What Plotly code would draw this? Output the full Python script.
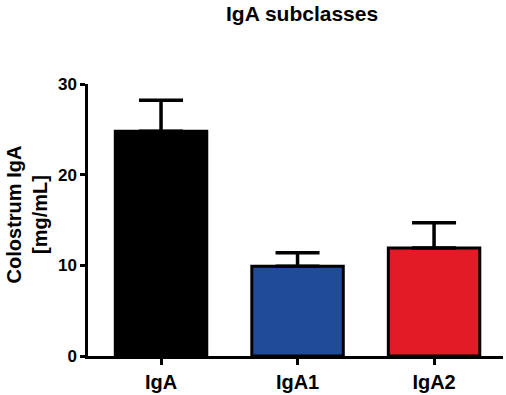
import plotly.graph_objects as go

categories = ["IgA", "IgA1", "IgA2"]
means = [24.8, 9.9, 11.9]
sem_upper = [3.4, 1.5, 2.8]
bar_colors = ["#000000", "#1f4b99", "#e21b26"]
y_ticks = [0, 10, 20, 30]

font_family = "Liberation Sans, Arial, Helvetica, sans-serif"

fig = go.Figure()
fig.add_trace(go.Bar(
    x=categories,
    y=means,
    width=0.67,
    marker=dict(color=bar_colors, line=dict(color="#000000", width=3)),
    error_y=dict(type="data", symmetric=False, array=sem_upper,
                 arrayminus=[0, 0, 0], color="#000000", thickness=3.5, width=22),
))

fig.update_layout(
    width=506, height=395,
    margin=dict(l=88, r=3, t=84, b=39),
    paper_bgcolor="white", plot_bgcolor="white",
    showlegend=False,
    title=dict(text="IgA subclasses", x=0.597, xanchor="center", y=0.965, yanchor="middle",
               font=dict(family=font_family, size=21, color="#000000", weight="bold")),
    xaxis=dict(range=[-0.535, 2.505], showline=True, linecolor="#000000", linewidth=2.5,
               ticks="outside", ticklen=6, tickwidth=2.5, tickcolor="#000000",
               tickfont=dict(family=font_family, size=20, color="#000000", weight="bold"),
               showgrid=False, zeroline=False, fixedrange=True),
    yaxis=dict(range=[0, 30], tickvals=y_ticks, showline=True, linecolor="#000000", linewidth=2.5,
               ticks="outside", ticklen=5, tickwidth=2.5, tickcolor="#000000",
               tickfont=dict(family=font_family, size=17, color="#000000", weight="bold"),
               showgrid=False, zeroline=False, fixedrange=True),
    annotations=[dict(text="Colostrum IgA<br>[mg/mL]", textangle=-90, xref="paper", yref="paper",
                      x=-0.146, y=0.522, xanchor="center", yanchor="middle", showarrow=False,
                      font=dict(family=font_family, size=20, color="#000000", weight="bold"))],
)

fig.write_html("out.html", config={"displayModeBar": False},
               post_script="document.body.style.margin='0';document.body.style.overflow='hidden';")
